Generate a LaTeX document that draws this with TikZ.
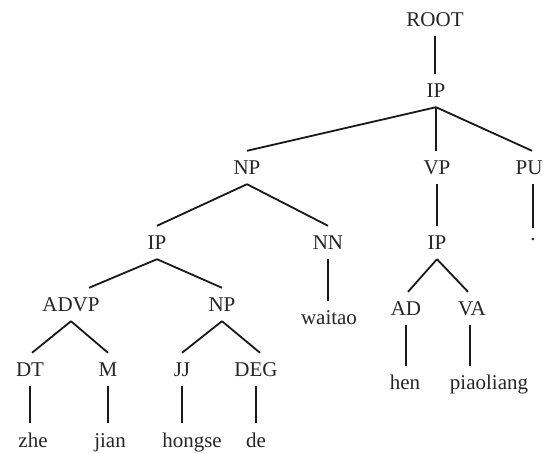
\documentclass[tikz,border=0pt]{standalone}
\usepackage{fontspec}
\setmainfont{Liberation Serif}
\begin{document}
\begin{tikzpicture}[x=1pt,y=-1pt,
  lbl/.style={anchor=base,inner xsep=0pt,inner ysep=9pt,text height=15pt,text depth=0pt,
    text=black!85,font=\fontsize{21}{25}\selectfont},
  dotlbl/.style={lbl,text height=4pt},
  edge/.style={draw=black!90,line width=1.8pt}]
\useasboundingbox (0,0) rectangle (544,454);
\clip (0,0) rectangle (544,454);
\fill[white] (0,0) rectangle (544,454);
% nodes
\node[lbl] (root) at (435,27) {ROOT};
\node[lbl] (ip) at (436,98) {IP};
\node[lbl] (np) at (247,175) {NP};
\node[lbl] (vp) at (437,175) {VP};
\node[lbl] (pu) at (529,175) {PU};
\node[lbl] (ip1) at (157,250) {IP};
\node[lbl] (nn) at (328,250) {NN};
\node[lbl] (ip2) at (437,250) {IP};
\node[dotlbl] (dot) at (533,241) {.};
\node[lbl] (advp) at (71,312) {ADVP};
\node[lbl] (np2) at (222,312) {NP};
\node[lbl] (waitao) at (329,325) {waitao};
\node[lbl] (ad) at (406,316) {AD};
\node[lbl] (va) at (472,316) {VA};
\node[lbl] (dt) at (30,377) {DT};
\node[lbl] (m) at (108,377) {M};
\node[lbl] (jj) at (182,377) {JJ};
\node[lbl] (deg) at (256,377) {DEG};
\node[lbl] (hen) at (405,390) {hen};
\node[lbl] (piaoliang) at (489,390) {piaoliang};
\node[lbl] (zhe) at (33,447) {zhe};
\node[lbl] (jian) at (110,447) {jian};
\node[lbl] (hongse) at (192,447) {hongse};
\node[lbl] (de) at (256,447) {de};
% edges
\path[edge] (root.south) -- (root.south |- ip.north);
\path[edge] (ip.south) -- (np.north);
\path[edge] (ip.south) -- (ip.south |- vp.north);
\path[edge] (ip.south) -- ([xshift=3pt]pu.north);
\path[edge] ([xshift=4pt]pu.south) -- ([xshift=4pt]pu.south |- dot.north);
\path[edge] (np.south) -- (ip1.north);
\path[edge] (np.south) -- (nn.north);
\path[edge] (vp.south) -- (vp.south |- ip2.north);
\path[edge] (ip1.south) -- ([xshift=18pt]advp.north);
\path[edge] (ip1.south) -- (np2.north);
\path[edge] (nn.south) -- (nn.south |- waitao.north);
\path[edge] (ip2.south) -- ([xshift=2pt]ad.north);
\path[edge] (ip2.south) -- ([xshift=-4pt]va.north);
\path[edge] (advp.south) -- ([xshift=2pt]dt.north);
\path[edge] (advp.south) -- (m.north);
\path[edge] (np2.south) -- (jj.north);
\path[edge] (np2.south) -- ([xshift=4pt]deg.north);
\path[edge] (dt.south) -- (dt.south |- zhe.north);
\path[edge] (m.south) -- (m.south |- jian.north);
\path[edge] (jj.south) -- (jj.south |- hongse.north);
\path[edge] (deg.south) -- (deg.south |- de.north);
\path[edge] (ad.south) -- (ad.south |- hen.north);
\path[edge] ([xshift=-2pt]va.south) -- ([xshift=-2pt]va.south |- piaoliang.north);
\end{tikzpicture}
\end{document}
